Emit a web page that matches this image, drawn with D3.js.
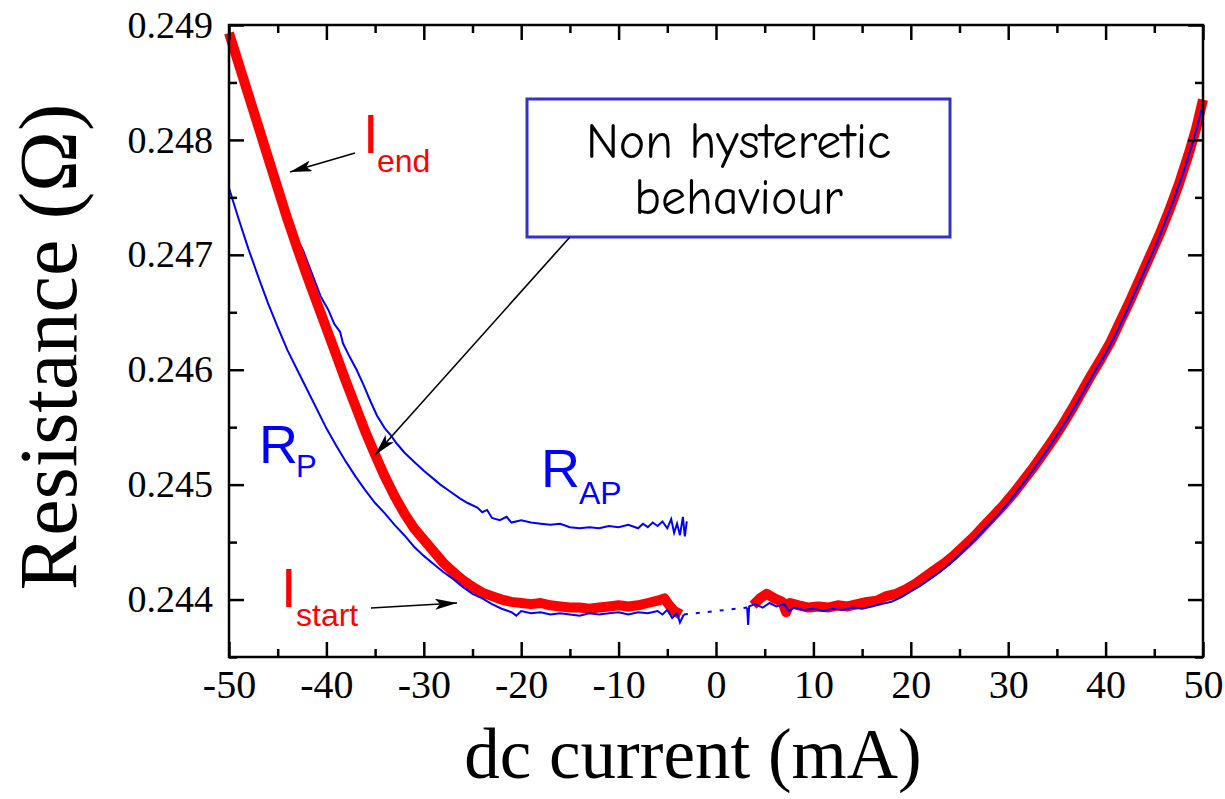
<!DOCTYPE html>
<html>
<head>
<meta charset="utf-8">
<script src="https://cdn.jsdelivr.net/npm/d3@7"></script>
<style>
  body { margin: 0; background: #fff; }
  svg { display: block; }
</style>
</head>
<body>
<svg id="chart" width="1225" height="799"></svg>
<script>
// ---- tick values ----
const xMajorTicks = [-50, -40, -30, -20, -10, 0, 10, 20, 30, 40, 50];
const xMinorTicks = [-45, -35, -25, -15, -5, 5, 15, 25, 35, 45];
const yMajorTicks = [0.244, 0.245, 0.246, 0.247, 0.248, 0.249];
const yMinorTicks = [0.2435, 0.2445, 0.2455, 0.2465, 0.2475, 0.2485];

// ---- current sweep (thick red), negative branch: [I (mA), R (ohm)] ----
const sweepNeg = [
  [-50.0,0.24893],[-49.0,0.24866],[-48.0,0.24839],[-47.0,0.24812],[-46.0,0.24785],
  [-45.0,0.24758],[-44.0,0.24731],[-43.0,0.24706],[-42.0,0.24682],[-41.0,0.24659],
  [-40.0,0.24636],[-39.0,0.24613],[-38.0,0.24590],[-37.0,0.24568],[-36.0,0.24546],
  [-35.0,0.24526],[-34.0,0.24507],[-33.0,0.24490],[-32.0,0.24475],[-31.0,0.24462],
  [-30.0,0.24452],[-29.0,0.24442],[-28.0,0.24432],[-27.0,0.24424],[-26.0,0.24417],
  [-25.0,0.24411],[-24.0,0.24406],[-23.0,0.24403],[-22.0,0.24400],[-21.0,0.24398],
  [-20.0,0.24397],[-19.0,0.24396],[-18.0,0.24397],[-17.0,0.24395],[-16.0,0.24394],
  [-15.0,0.24393],[-14.0,0.24393],[-13.0,0.24392],[-12.0,0.24393],[-11.0,0.24394],
  [-10.0,0.24395],[-9.0,0.24394],[-8.0,0.24395],[-7.0,0.24397],[-6.0,0.24399],
  [-5.3,0.24401],[-4.8,0.24395],[-4.3,0.24390],[-3.6,0.24387]
];

// ---- current sweep (thick red), positive branch ----
const sweepPos = [
  [3.8,0.24395],[4.5,0.24401],[5.2,0.24405],[6.0,0.24401],[6.8,0.24398],
  [7.2,0.24389],[7.6,0.24397],[8.5,0.24395],[9.5,0.24393],[10.5,0.24394],
  [11.5,0.24393],[12.5,0.24395],[13.5,0.24394],[14.5,0.24396],[15.5,0.24398],
  [16.5,0.24399],[17.5,0.24403],[18.5,0.24405],[19.5,0.24409],[20.5,0.24414],
  [21.5,0.24420],[22.5,0.24426],[23.5,0.24432],[24.5,0.24439],[25.5,0.24447],
  [26.5,0.24455],[27.5,0.24464],[28.5,0.24473],[29.5,0.24482],[30.5,0.24492],
  [31.5,0.24503],[32.5,0.24514],[33.5,0.24526],[34.5,0.24538],[35.5,0.24551],
  [36.5,0.24565],[37.5,0.24580],[38.5,0.24595],[39.5,0.24609],[40.5,0.24624],
  [41.5,0.24642],[42.5,0.24660],[43.5,0.24679],[44.5,0.24698],[45.5,0.24717],
  [46.5,0.24738],[47.5,0.24761],[48.5,0.24787],[49.3,0.24810],[50.0,0.24835]
];

// ---- antiparallel state R_AP (thin blue), negative currents ----
const rapNeg = [
  [-50.0,0.24890],[-48.0,0.24837],[-46.0,0.24784],[-45.0,0.24763],[-44.3,0.24742],
  [-43.5,0.24722],[-42.4,0.24704],[-41.5,0.24684],[-40.6,0.24664],[-39.8,0.24652],
  [-39.2,0.24640],[-38.6,0.24633],[-38.3,0.24623],[-37.6,0.24611],[-36.9,0.24600],
  [-36.2,0.24587],[-35.5,0.24573],[-34.8,0.24560],[-34.0,0.24549],[-33.4,0.24543],
  [-32.8,0.24536],[-32.0,0.24528],[-31.0,0.24520],[-30.0,0.24512],[-29.0,0.24505],
  [-28.3,0.24500],[-27.3,0.24494],[-26.3,0.24488],[-25.5,0.24484],[-24.5,0.24480],
  [-24.0,0.24476],[-23.5,0.24478],[-23.0,0.24471],[-22.2,0.24469],[-21.5,0.24472],
  [-21.0,0.24467],[-20.0,0.24469],[-19.0,0.24467],[-18.0,0.24466],[-17.0,0.24465],
  [-16.0,0.24466],[-15.0,0.24463],[-14.0,0.24462],[-13.0,0.24463],[-12.0,0.24462],
  [-11.0,0.24464],[-10.0,0.24463],[-9.0,0.24465],[-8.0,0.24462],[-7.5,0.24466],
  [-7.0,0.24463],[-6.5,0.24467],[-6.0,0.24464],[-5.5,0.24468],[-5.0,0.24462],
  [-4.6,0.24470],[-4.3,0.24458],[-4.0,0.24466],[-3.7,0.24456],[-3.4,0.24472],
  [-3.2,0.24455],[-3.0,0.24468]
];

// ---- parallel state R_P (thin blue), negative currents ----
const rpNeg = [
  [-50.0,0.24758],[-49.0,0.24731],[-48.0,0.24705],[-47.0,0.24681],[-46.0,0.24658],
  [-45.0,0.24637],[-44.0,0.24617],[-43.0,0.24600],[-42.0,0.24583],[-41.0,0.24566],
  [-40.0,0.24549],[-39.0,0.24534],[-38.0,0.24520],[-37.0,0.24507],[-36.0,0.24495],
  [-35.0,0.24484],[-34.0,0.24475],[-33.0,0.24465],[-32.0,0.24456],[-31.0,0.24446],
  [-30.0,0.24438],[-29.0,0.24431],[-28.0,0.24424],[-27.0,0.24418],[-26.0,0.24411],
  [-25.0,0.24405],[-24.0,0.24401],[-23.0,0.24396],[-22.0,0.24392],[-21.0,0.24389],
  [-20.5,0.24386],[-20.0,0.24390],[-19.0,0.24388],[-18.0,0.24389],[-17.0,0.24387],
  [-16.0,0.24388],[-15.0,0.24387],[-14.0,0.24386],[-13.0,0.24388],[-12.0,0.24387],
  [-11.0,0.24388],[-10.0,0.24389],[-9.0,0.24387],[-8.0,0.24389],[-7.0,0.24388],
  [-6.0,0.24390],[-5.5,0.24387],[-5.0,0.24391],[-4.5,0.24384],[-4.0,0.24388],
  [-3.7,0.24380],[-3.3,0.24387]
];

// ---- thin blue trace, positive currents ----
const rPos = [
  [3.2,0.24393],[3.3,0.24378],[3.4,0.24394],[4.0,0.24396],[4.8,0.24393],
  [5.5,0.24397],[6.2,0.24394],[7.0,0.24396],[7.5,0.24390],[8.0,0.24393],
  [9.0,0.24391],[10.0,0.24392],[11.0,0.24390],[12.0,0.24392],[13.0,0.24391],
  [14.0,0.24393],[15.0,0.24392],[16.0,0.24394],[17.0,0.24396],[18.0,0.24398],
  [19.0,0.24402],[20.0,0.24407],[21.0,0.24412],[22.0,0.24418],[23.0,0.24424],
  [24.0,0.24431],[25.0,0.24439],[26.0,0.24447],[27.0,0.24456],[28.0,0.24465],
  [29.0,0.24474],[30.0,0.24484],[31.0,0.24495],[32.0,0.24506],[33.0,0.24518],
  [34.0,0.24530],[35.0,0.24543],[36.0,0.24556],[37.0,0.24570],[38.0,0.24585],
  [39.0,0.24600],[40.0,0.24614],[41.0,0.24630],[42.0,0.24648],[43.0,0.24667],
  [44.0,0.24686],[45.0,0.24705],[46.0,0.24726],[47.0,0.24748],[48.0,0.24772],
  [48.7,0.24791],[49.4,0.24811],[50.0,0.24832]
];

// ---- dotted link across the unmeasured gap around zero ----
const gapLink = [[-3.3,0.24387],[3.2,0.24393]];

// ---------------------------------------------------------------
const svg = d3.select("#chart");
const plotLeft = 229, plotRight = 1203, plotTop = 25, plotBottom = 657;

const x = d3.scaleLinear().domain([-50, 50]).range([plotLeft, plotRight]);
const y = d3.scaleLinear().domain([0.2435, 0.249]).range([plotBottom, plotTop]);

const serif = "'Liberation Serif','Times New Roman',serif";
const sans = "'Liberation Sans',Arial,sans-serif";

// arrow head marker
svg.append("defs").append("marker")
  .attr("id", "arrow")
  .attr("markerUnits", "userSpaceOnUse")
  .attr("viewBox", "0 0 22 11")
  .attr("refX", 22).attr("refY", 5.5)
  .attr("markerWidth", 22).attr("markerHeight", 11)
  .attr("orient", "auto")
  .append("path")
  .attr("d", "M0,0 L22,5.5 L0,11 L5,5.5 Z")
  .attr("fill", "#000");

// ---- data traces ----
const line = d3.line().x(d => x(d[0])).y(d => y(d[1]));
const traces = svg.append("g");

traces.append("path").datum(rapNeg)
  .attr("d", line).attr("fill", "none")
  .attr("stroke", "#0000ff").attr("stroke-width", 2);

traces.append("path").datum(sweepNeg)
  .attr("d", line).attr("fill", "none")
  .attr("stroke", "#ff0000").attr("stroke-width", 10)
  .attr("stroke-linejoin", "round");
traces.append("path").datum(sweepPos)
  .attr("d", line).attr("fill", "none")
  .attr("stroke", "#ff0000").attr("stroke-width", 10)
  .attr("stroke-linejoin", "round");

traces.append("path").datum(rpNeg)
  .attr("d", line).attr("fill", "none")
  .attr("stroke", "#0000ff").attr("stroke-width", 2);
traces.append("path").datum(rPos)
  .attr("d", line).attr("fill", "none")
  .attr("stroke", "#0000ff").attr("stroke-width", 2);
traces.append("path").datum(gapLink)
  .attr("d", line).attr("fill", "none")
  .attr("stroke", "#0000ff").attr("stroke-width", 2)
  .attr("stroke-dasharray", "4,8");

// ---- axes: inward ticks on all four sides ----
function styleAxis(g) {
  g.select(".domain").remove();
  g.selectAll(".tick line").attr("stroke", "#000").attr("stroke-width", 2.5);
}

svg.append("g").attr("transform", `translate(0,${plotBottom})`)
  .call(d3.axisBottom(x).tickValues(xMajorTicks).tickSizeInner(-15).tickSizeOuter(0)
    .tickPadding(13).tickFormat(d => String(d)))
  .call(styleAxis)
  .call(g => g.selectAll("text").attr("font-family", serif).attr("font-size", 40).attr("fill", "#000"));
svg.append("g").attr("transform", `translate(0,${plotBottom})`)
  .call(d3.axisBottom(x).tickValues(xMinorTicks).tickSizeInner(-8).tickSizeOuter(0).tickFormat(""))
  .call(styleAxis);
svg.append("g").attr("transform", `translate(0,${plotTop})`)
  .call(d3.axisTop(x).tickValues(xMajorTicks).tickSizeInner(-15).tickSizeOuter(0).tickFormat(""))
  .call(styleAxis);
svg.append("g").attr("transform", `translate(0,${plotTop})`)
  .call(d3.axisTop(x).tickValues(xMinorTicks).tickSizeInner(-8).tickSizeOuter(0).tickFormat(""))
  .call(styleAxis);

svg.append("g").attr("transform", `translate(${plotLeft},0)`)
  .call(d3.axisLeft(y).tickValues(yMajorTicks).tickSizeInner(-15).tickSizeOuter(0)
    .tickPadding(16).tickFormat(d3.format(".3f")))
  .call(styleAxis)
  .call(g => g.selectAll("text").attr("font-family", serif).attr("font-size", 38).attr("fill", "#000"));
svg.append("g").attr("transform", `translate(${plotLeft},0)`)
  .call(d3.axisLeft(y).tickValues(yMinorTicks).tickSizeInner(-8).tickSizeOuter(0).tickFormat(""))
  .call(styleAxis);
svg.append("g").attr("transform", `translate(${plotRight},0)`)
  .call(d3.axisRight(y).tickValues(yMajorTicks).tickSizeInner(-15).tickSizeOuter(0).tickFormat(""))
  .call(styleAxis);
svg.append("g").attr("transform", `translate(${plotRight},0)`)
  .call(d3.axisRight(y).tickValues(yMinorTicks).tickSizeInner(-8).tickSizeOuter(0).tickFormat(""))
  .call(styleAxis);

// frame
svg.append("rect")
  .attr("x", plotLeft).attr("y", plotTop)
  .attr("width", plotRight - plotLeft).attr("height", plotBottom - plotTop)
  .attr("fill", "none").attr("stroke", "#000").attr("stroke-width", 2.5);

// ---- axis titles ----
svg.append("text")
  .attr("x", 693).attr("y", 778)
  .attr("text-anchor", "middle")
  .attr("font-family", serif).attr("font-size", 71)
  .text("dc current (mA)");

svg.append("text")
  .attr("transform", "translate(76,347) rotate(-90)")
  .attr("text-anchor", "middle")
  .attr("font-family", serif).attr("font-size", 82)
  .text("Resistance (\u03A9)");

// ---- annotations ----
const notes = svg.append("g").attr("font-family", sans);

// I_end
notes.append("text").attr("x", 363).attr("y", 153).attr("font-size", 56)
  .attr("fill", "#ff0000").text("I");
notes.append("text").attr("x", 377).attr("y", 172).attr("font-size", 32)
  .attr("fill", "#ff0000").text("end");
notes.append("line")
  .attr("x1", 355).attr("y1", 153).attr("x2", 290).attr("y2", 172)
  .attr("stroke", "#000").attr("stroke-width", 1.6).attr("marker-end", "url(#arrow)");

// I_start
notes.append("text").attr("x", 281).attr("y", 607).attr("font-size", 56)
  .attr("fill", "#ff0000").text("I");
notes.append("text").attr("x", 296).attr("y", 626).attr("font-size", 32)
  .attr("fill", "#ff0000").text("start");
notes.append("line")
  .attr("x1", 371).attr("y1", 608).attr("x2", 457).attr("y2", 603)
  .attr("stroke", "#000").attr("stroke-width", 1.6).attr("marker-end", "url(#arrow)");

// R_P
notes.append("text").attr("x", 259).attr("y", 463).attr("font-size", 54)
  .attr("fill", "#0000ff").text("R");
notes.append("text").attr("x", 296).attr("y", 477).attr("font-size", 31)
  .attr("fill", "#0000ff").text("P");

// R_AP
notes.append("text").attr("x", 541).attr("y", 487).attr("font-size", 54)
  .attr("fill", "#0000ff").text("R");
notes.append("text").attr("x", 579).attr("y", 504).attr("font-size", 32)
  .attr("fill", "#0000ff").text("AP");

// framed remark
const boxX = 527, boxY = 99, boxW = 423, boxH = 138;
notes.append("rect")
  .attr("x", boxX).attr("y", boxY).attr("width", boxW).attr("height", boxH)
  .attr("fill", "#fff").attr("stroke", "#3333cc").attr("stroke-width", 3);
const remarkFont = "'Comic Sans MS','Comic Neue',Lato,'Open Sans',sans-serif";
notes.append("text")
  .attr("x", boxX + boxW / 2).attr("y", 158)
  .attr("text-anchor", "middle")
  .attr("font-family", remarkFont).attr("font-size", 50).attr("fill", "#000")
  .text("Non hysteretic");
notes.append("text")
  .attr("x", boxX + boxW / 2).attr("y", 214)
  .attr("text-anchor", "middle")
  .attr("font-family", remarkFont).attr("font-size", 50).attr("fill", "#000")
  .text("behaviour");
notes.append("line")
  .attr("x1", 570).attr("y1", 237).attr("x2", 375).attr("y2", 455)
  .attr("stroke", "#000").attr("stroke-width", 1.6).attr("marker-end", "url(#arrow)");
</script>
</body>
</html>
